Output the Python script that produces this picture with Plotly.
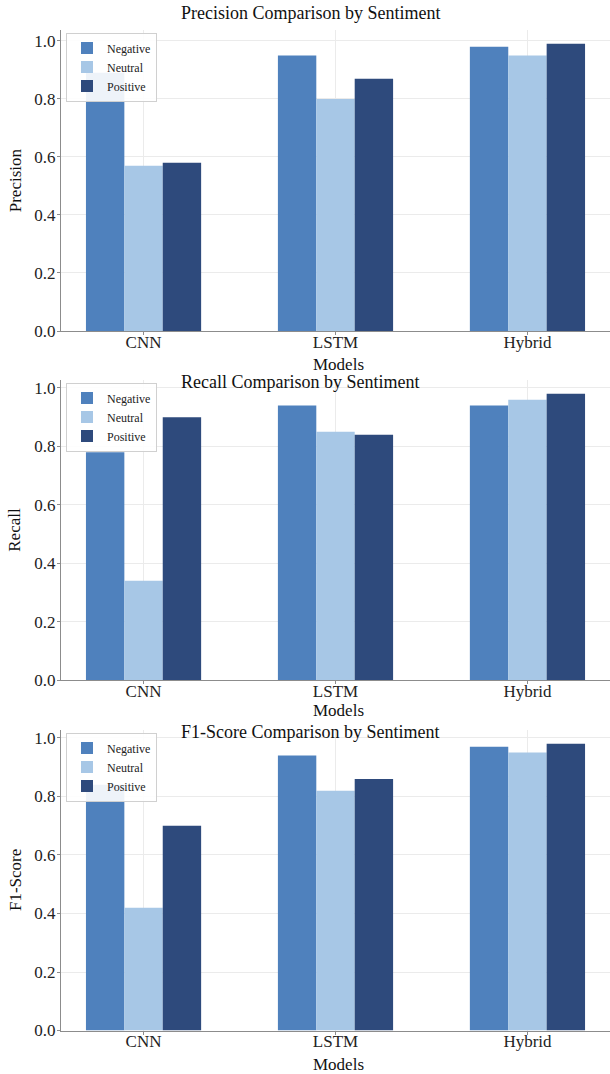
import plotly.graph_objects as go

models = ["CNN", "LSTM", "Hybrid"]
sentiments = ["Negative", "Neutral", "Positive"]
colors = ["#4F81BD", "#A7C7E6", "#2E4A7C"]

precision = {
    "Negative": [0.89, 0.95, 0.98],
    "Neutral": [0.57, 0.80, 0.95],
    "Positive": [0.58, 0.87, 0.99],
}
recall = {
    "Negative": [0.78, 0.94, 0.94],
    "Neutral": [0.34, 0.85, 0.96],
    "Positive": [0.90, 0.84, 0.98],
}
f1 = {
    "Negative": [0.84, 0.94, 0.97],
    "Neutral": [0.42, 0.82, 0.95],
    "Positive": [0.70, 0.86, 0.98],
}

metrics = [
    ("Precision", precision, "Precision Comparison by Sentiment"),
    ("Recall", recall, "Recall Comparison by Sentiment"),
    ("F1-Score", f1, "F1-Score Comparison by Sentiment"),
]

W, H = 610, 1074
L = 61
# plot area pixel extents (top, bottom) for each panel
panels = [(29.5, 331.0), (379.5, 680.0), (729.5, 1030.5)]
title_y = [13, 382, 732]
xlabel_y = [364, 710, 1064]

FONT = "Liberation Serif, Times New Roman, serif"

def py(p):
    return 1 - p / H

def px(x):
    return (x - L) / (W - L)

fig = go.Figure()
annotations = []
for k, (name, data, title) in enumerate(metrics):
    xa = "x" if k == 0 else f"x{k+1}"
    ya = "y" if k == 0 else f"y{k+1}"
    lg = "legend" if k == 0 else f"legend{k+1}"
    for s, c in zip(sentiments, colors):
        fig.add_trace(go.Bar(
            x=models, y=data[s], name=s, marker=dict(color=c, line=dict(width=0)),
            xaxis=xa, yaxis=ya, legend=lg, offsetgroup=s,
        ))
    top, bot = panels[k]
    ymax = max(max(v) for v in data.values()) * 1.05
    axkey_x = "xaxis" if k == 0 else f"xaxis{k+1}"
    axkey_y = "yaxis" if k == 0 else f"yaxis{k+1}"
    fig.update_layout(**{
        axkey_x: dict(
            domain=[0, 1], anchor=ya, range=[-0.43, 2.43], automargin=False,
            showgrid=True, gridcolor="#ebebeb", gridwidth=1,
            showline=True, linecolor="#8c8c8c", linewidth=1.2,
            ticks="outside", ticklen=3, tickcolor="#8c8c8c",
            ticklabelstandoff=-8,
            tickfont=dict(family=FONT, size=17, color="#222"),
            zeroline=False,
        ),
        axkey_y: dict(
            domain=[py(bot), py(top)], anchor=xa, range=[0, ymax], automargin=False,
            tickvals=[0, 0.2, 0.4, 0.6, 0.8, 1.0], tickformat=".1f",
            showgrid=True, gridcolor="#ebebeb", gridwidth=1,
            showline=True, linecolor="#8c8c8c", linewidth=1.2,
            ticks="outside", ticklen=3, tickcolor="#8c8c8c",
            ticklabelstandoff=-2,
            tickfont=dict(family=FONT, size=17, color="#222"),
            zeroline=False,
        ),
        lg: dict(
            x=px(66), y=py(top + 3), xref="paper", yref="paper",
            xanchor="left", yanchor="top",
            bgcolor="rgba(255,255,255,0.9)", bordercolor="#d0d0d0", borderwidth=1,
            font=dict(family=FONT, size=12, color="#222"),
            tracegroupgap=0, itemwidth=30,
        ),
    })
    annotations.append(dict(
        text=title, x=px(179), y=py(title_y[k]), xref="paper", yref="paper",
        xanchor="left", yanchor="middle", showarrow=False,
        font=dict(family=FONT, size=18, color="#111"),
    ))
    annotations.append(dict(
        text="Models", x=px(338), y=py(xlabel_y[k]), xref="paper", yref="paper",
        xanchor="center", yanchor="middle", showarrow=False,
        font=dict(family=FONT, size=17, color="#111"),
    ))
    annotations.append(dict(
        text=name, x=px(15), y=py((top + bot) / 2), xref="paper", yref="paper",
        xanchor="center", yanchor="middle", showarrow=False, textangle=-90,
        font=dict(family=FONT, size=17, color="#111"),
    ))

fig.update_layout(
    width=W, height=H,
    margin=dict(l=L, r=0, t=0, b=0, autoexpand=False),
    barmode="group", bargap=0.4, bargroupgap=0,
    plot_bgcolor="white", paper_bgcolor="white",
    annotations=annotations,
    showlegend=True,
)

fig.write_html(
    "out.html",
    config={"displayModeBar": False},
    post_script="document.body.style.margin='0';document.body.style.overflow='hidden';",
)
